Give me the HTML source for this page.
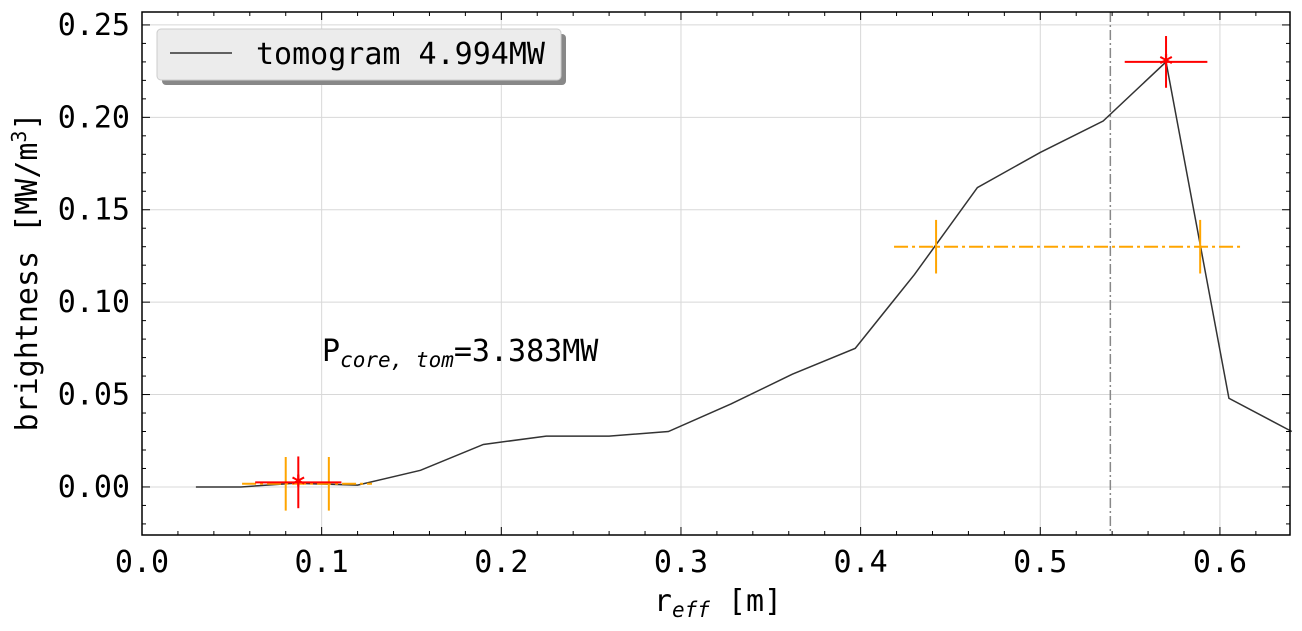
<!DOCTYPE html>
<html><head><meta charset="utf-8"><style>
body{margin:0;background:#fff}
svg{font-family:"DejaVu Sans Mono","Liberation Mono",monospace}
</style></head><body>
<svg id="c" width="1302" height="626" xmlns="http://www.w3.org/2000/svg"></svg>
<script>
const lineR=[0.03,0.055,0.085,0.12,0.155,0.19,0.225,0.26,0.293,0.328,0.362,0.397,0.43,0.465,0.5,0.535,0.57,0.605,0.64];
const lineB=[0,0,0.002,0.001,0.009,0.023,0.0275,0.0275,0.03,0.045,0.061,0.075,0.115,0.162,0.181,0.198,0.23,0.048,0.03];
const redX=[0.087,0.57],redY=[0.0025,0.230],redXerr=[0.024,0.023],redYerr=[0.014,0.014];
const orSegL=[0.0557,0.4186],orSegR=[0.128,0.612],orY=[0.0017,0.130],orCross=[[0.080,0.104],[0.442,0.589]],orYerr=[0.0145,0.0145];
const vline=0.539;
const xTicks=[0,0.1,0.2,0.3,0.4,0.5,0.6],yTicks=[0,0.05,0.1,0.15,0.2,0.25];
const L=142,R=1290,T=12,B=535,x0=0,x1=0.639,y0=-0.026,y1=0.257;
const X=v=>L+(v-x0)/(x1-x0)*(R-L),Y=v=>B-(v-y0)/(y1-y0)*(B-T);
const s=document.getElementById('c');const NS='http://www.w3.org/2000/svg';
function el(t,a,n,txt){const e=document.createElementNS(NS,t);for(const k in a)e.setAttribute(k,a[k]);


if(txt!==undefined)e.innerHTML=txt;s.appendChild(e);return e;}
xTicks.forEach(v=>el('line',{x1:X(v),x2:X(v),y1:T,y2:B,stroke:'#d8d8d8','stroke-width':1},'x-grid'));
yTicks.forEach(v=>el('line',{x1:L,x2:R,y1:Y(v),y2:Y(v),stroke:'#d8d8d8','stroke-width':1},'y-grid'));
for(let v=0;v<=0.64;v+=0.02){const m=Math.abs(v/0.1-Math.round(v/0.1))<1e-6;const l=m?8:4;
el('line',{x1:X(v),x2:X(v),y1:B,y2:B-l,stroke:'#000'},'x-tick');el('line',{x1:X(v),x2:X(v),y1:T,y2:T+l,stroke:'#000'},'x-tick-top');}
for(let v=-0.02;v<=0.255;v+=0.01){const m=Math.abs(v/0.05-Math.round(v/0.05))<1e-6;const l=m?8:4;
el('line',{x1:L,x2:L+l,y1:Y(v),y2:Y(v),stroke:'#000'},'y-tick');el('line',{x1:R,x2:R-l,y1:Y(v),y2:Y(v),stroke:'#000'},'y-tick-right');}
xTicks.forEach(v=>el('text',{x:X(v),y:572,'font-size':30,'text-anchor':'middle'},'x-tick-label',v.toFixed(1)));
yTicks.forEach(v=>el('text',{x:130,y:Y(v)+10,'font-size':30,'text-anchor':'end'},'y-tick-label',v.toFixed(2)));
el('line',{x1:X(vline),x2:X(vline),y1:T,y2:B,stroke:'#888','stroke-width':1.5,'stroke-dasharray':'10,3,2,3'},'vertical-marker');
el('polyline',{points:lineR.map((r,i)=>X(r)+','+Y(lineB[i])).join(' '),fill:'none',stroke:'#333','stroke-width':1.5},'tomogram-line');
orY.forEach((y,i)=>{el('line',{x1:X(orSegL[i]),x2:X(orSegR[i]),y1:Y(y),y2:Y(y),stroke:'orange','stroke-width':2,'stroke-dasharray':'14,4,3,4'},'orange-range');
orCross[i].forEach(c=>el('line',{x1:X(c),x2:X(c),y1:Y(y-orYerr[i]),y2:Y(y+orYerr[i]),stroke:'orange','stroke-width':2},'orange-error'));});
redX.forEach((x,i)=>{el('line',{x1:X(x-redXerr[i]),x2:X(x+redXerr[i]),y1:Y(redY[i]),y2:Y(redY[i]),stroke:'red','stroke-width':2},'red-xerr');
el('line',{x1:X(x),x2:X(x),y1:Y(redY[i]-redYerr[i]),y2:Y(redY[i]+redYerr[i]),stroke:'red','stroke-width':2},'red-yerr');
el('text',{x:X(x),y:Y(redY[i])+11,'font-size':26,'font-weight':'bold',fill:'red','text-anchor':'middle'},'red-marker','*');});
el('rect',{x:L,y:T,width:R-L,height:B-T,fill:'none',stroke:'#000','stroke-width':1.5},'plot-frame');
el('rect',{x:162,y:34,width:404,height:51,rx:4,fill:'#888'},'legend-shadow');
el('rect',{x:157,y:29,width:404,height:51,rx:4,fill:'#ececec',stroke:'#ccc'},'legend');
el('line',{x1:170,x2:232,y1:53,y2:53,stroke:'#333','stroke-width':1.5},'legend-line');
el('text',{x:256,y:64,'font-size':30},'legend-label','tomogram 4.994MW');
el('text',{x:322,y:361,'font-size':30},'annotation','P<tspan font-size="21" dy="6" font-style="italic">core, tom</tspan><tspan dy="-6">=3.383MW</tspan>');
el('text',{x:718,y:611,'font-size':30,'text-anchor':'middle'},'x-axis-title','r<tspan font-size="21" dy="6" font-style="italic">eff</tspan><tspan dy="-6"> [m]</tspan>');
el('text',{x:0,y:0,'font-size':30,'text-anchor':'middle',transform:'translate(37,272) rotate(-90)'},'y-axis-title','brightness [MW/m<tspan font-size="20" dy="-11">3</tspan><tspan dy="11">]</tspan>');
</script>
</body></html>
